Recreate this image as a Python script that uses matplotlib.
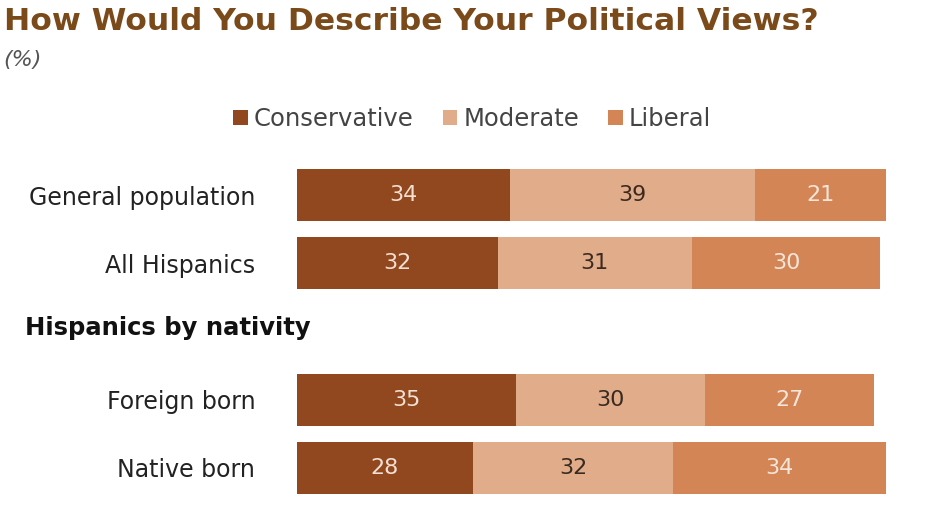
import numpy as np
import matplotlib.pyplot as plt

# donnees
groupes = ['General population', 'All Hispanics', 'Foreign born', 'Native born']
positions = [0, 1, 3, 4]
conservateur = [34, 32, 35, 28]
modere = [39, 31, 30, 32]
liberal = [21, 30, 27, 34]
series = ['Conservative', 'Moderate', 'Liberal']
couleurs = ['#92481F', '#E1AC89', '#D38555']
couleurs_txt = ['#F3E0D3', '#3A2A20', '#F6E6DA']

fig = plt.figure(figsize=(9.41, 5.14), dpi=100)
ax = fig.add_axes([297/941, 1 - 502/514, 627/941, 341/514])

gauche = np.zeros(len(groupes))
for vals, nom, c, ct in zip([conservateur, modere, liberal], series, couleurs, couleurs_txt):
    barres = ax.barh(positions, vals, left=gauche, height=0.76, color=c, label=nom)
    for b, v in zip(barres, vals):
        ax.text(b.get_x() + b.get_width()/2, b.get_y() + b.get_height()/2, str(v),
                ha='center', va='center', fontsize=16, color=ct)
    gauche += np.array(vals)

ax.set_xlim(0, 100)
ax.set_ylim(4.5, -0.5)
ax.set_yticks(positions)
ax.set_yticklabels(groupes, fontsize=17, color='#222222')
ax.tick_params(axis='y', length=0, pad=30)
ax.set_xticks([])
for s in ax.spines.values():
    s.set_visible(False)

# titre et sous-titre
fig.text(0.004, 1 - 21/514, 'How Would You Describe Your Political Views?', fontsize=22.6,
         fontweight='bold', color='#7B4A1A', ha='left', va='center')
fig.text(0.004, 1 - 60/514, '(%)', fontsize=16, style='italic', color='#555555',
         ha='left', va='center')
fig.text(25/941, 1 - 328/514, 'Hispanics by nativity', fontsize=17.5, fontweight='bold',
         color='#111111', ha='left', va='center')

# legende
fig.legend(loc='center', bbox_to_anchor=(472/941, 1 - 119/514), ncol=3, frameon=False,
           fontsize=17.5, handlelength=0.6, handleheight=0.6, handletextpad=0.25,
           columnspacing=1.2, labelcolor='#444444')

fig.savefig('out.png', dpi=100)
